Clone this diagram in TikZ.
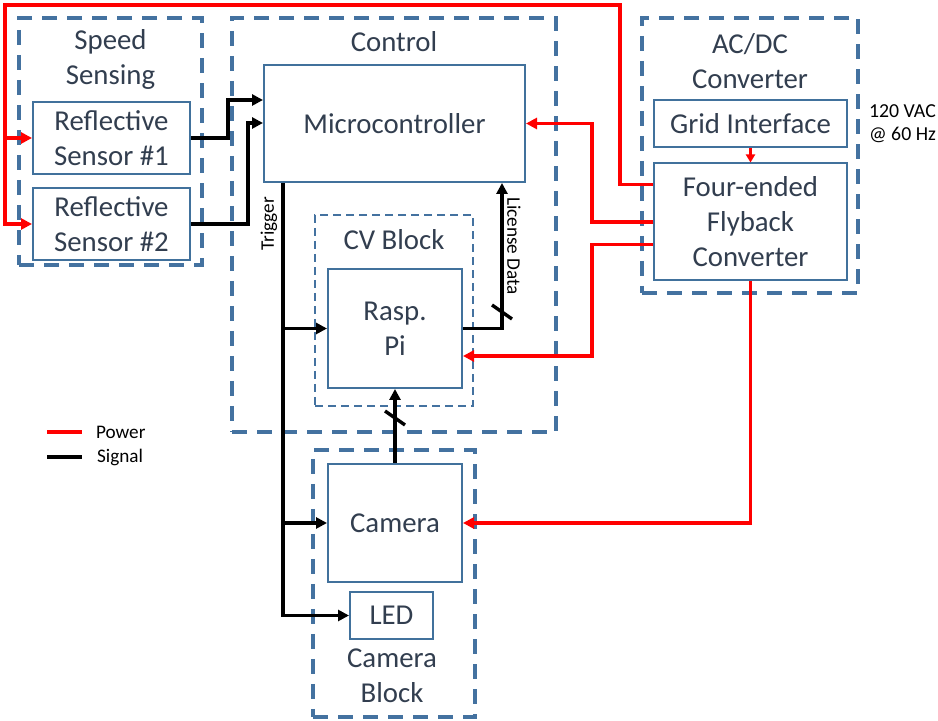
\documentclass[tikz,border=0pt]{standalone}
\usepackage{fontspec}
\setmainfont{Carlito}
\usetikzlibrary{arrows.meta, positioning, calc}
\definecolor{boxblue}{RGB}{65,113,156}
\definecolor{grpblue}{RGB}{68,114,160}
\definecolor{txtdark}{RGB}{50,62,79}
\definecolor{pwrred}{RGB}{255,0,0}

\begin{document}
\begin{tikzpicture}[
    x=0.5pt, y=-0.5pt,
    block/.style={rectangle, draw=boxblue, fill=white, line width=1pt, inner sep=0pt, align=center, text=txtdark, font=\fontsize{14.4}{17.5}\selectfont},
    group/.style={rectangle, draw=grpblue, line width=2pt, dash pattern=on 7.5pt off 5pt},
    subgroup/.style={rectangle, draw=grpblue, line width=0.9pt, dash pattern=on 4pt off 2.5pt},
    title/.style={align=center, text=txtdark, font=\fontsize{14.4}{17.5}\selectfont},
    small/.style={font=\fontsize{9.6}{11.5}\selectfont, text=black},
    power/.style={-{Triangle[length=5.5pt, width=5.5pt]}, line width=1.9pt, color=pwrred},
    signal/.style={-{Triangle[length=5.5pt, width=5.5pt]}, line width=1.9pt, color=black},
    busmark/.style={line width=1.7pt, color=black}
]
\useasboundingbox (0,0) rectangle (938,721);

% dashed groups
\node[group, minimum width=91.5pt, minimum height=123.5pt] (speedgrp) at (110.5,141.5) {};
\node[group, minimum width=162pt, minimum height=207pt] (ctrlgrp) at (394,225) {};
\node[subgroup, minimum width=79pt, minimum height=95.5pt] (cvgrp) at (394,310.5) {};
\node[group, minimum width=81pt, minimum height=133.5pt] (camgrp) at (394,583.5) {};
\node[group, minimum width=108pt, minimum height=137.5pt] (acdcgrp) at (750,155.5) {};

\node[title] (speedlbl) at (110.5,59) {Speed\\Sensing};
\node[title] (ctrllbl) at (394,42) {Control};
\node[title] (cvlbl) at (394,240) {CV Block};
\node[title] (camlbl) at (392,676) {Camera\\Block};
\node[title] (acdclbl) at (750,61) {AC/DC\\Converter};

% blocks
\node[block, minimum width=78.5pt, minimum height=36pt] (sens1) at (111.5,138) {Reflective\\Sensor \#1};
\node[block, minimum width=78.5pt, minimum height=36pt, below=6pt of sens1] (sens2) {Reflective\\Sensor \#2};
\node[block, minimum width=130.5pt, minimum height=58.5pt] (mcu) at (394.5,123.5) {Microcontroller};
\node[block, minimum width=67pt, minimum height=59.5pt] (pi) at (395,328.5) {Rasp.\\Pi};
\node[block, minimum width=67pt, minimum height=59pt] (cam) at (395,523) {Camera};
\node[block, minimum width=41.5pt, minimum height=23.5pt] (led) at (391.5,615.5) {LED};
\node[block, minimum width=96.5pt, minimum height=23.5pt] (grid) at (750.5,123.5) {Grid Interface};
\node[block, minimum width=96.5pt, minimum height=58.5pt, below=7.25pt of grid] (fly) {Four-ended\\Flyback\\Converter};

\node[small, align=left, anchor=west, font=\fontsize{9.9}{11.5}\selectfont] (vac) at (862,124) {120 VAC\\@ 60 Hz};

% power
\coordinate (topR) at (620,5);
\coordinate (topL) at (5,5);
\coordinate (tap) at (5,138);
\draw[power] ($(fly.west)+(0,-37.5)$) -| (topR) -- (topL) |- (sens2.west);
\draw[power] (tap) -- (sens1.west);
\draw[power] (fly.west) -- ++(-61,0) |- (mcu.east);
\draw[power] ($(fly.west)+(0,22.5)$) -- ++(-61,0) |- ($(pi.east)+(0,27.5)$);
\draw[power] (fly.south) |- (cam.east);
\draw[power, -{Triangle[length=4pt, width=4.5pt]}] (grid.south) -- (fly.north);

% signal
\draw[signal] (sens1.east) -- ++(37,0) |- ($(mcu.west)+(0,-23.5)$);
\draw[signal] (sens2.east) -- ++(57,0) |- ($(mcu.west)+(0,-0.5)$);

\coordinate (trig) at ($(mcu.south west)+(20,0)$);
\draw[signal] (trig) |- (led.west);
\draw[signal] (trig |- pi.west) -- (pi.west);
\draw[signal] (trig |- cam.west) -- (cam.west);
\node[small, rotate=90] (trglbl) at ($(trig)+(-14,41)$) {Trigger};

\coordinate (licin) at ($(mcu.south east)+(-24,0)$);
\draw[signal] (pi.east) -| (licin);
\coordinate (licbus) at ($(licin)+(0,129)$);
\draw[busmark] ($(licbus)+(-10,-7)$) -- ($(licbus)+(10,7)$);
\node[small, rotate=-90] (liclbl) at ($(licin)+(12,63)$) {License Data};

\draw[signal] (cam.north) -- (pi.south);
\coordinate (cambus) at ($(pi.south)+(0,29)$);
\draw[busmark] ($(cambus)+(-10,-7)$) -- ($(cambus)+(10,7)$);

% legend
\node[small, anchor=west] (lgpower) at (89,432) {Power};
\node[small, anchor=west] (lgsignal) at (90,457) {Signal};
\draw[line width=1.9pt, pwrred] ($(lgpower.west)+(-42,0)$) -- ++(35,0);
\draw[line width=1.9pt, black] ($(lgsignal.west)+(-43,0)$) -- ++(35,0);
\end{tikzpicture}
\end{document}
